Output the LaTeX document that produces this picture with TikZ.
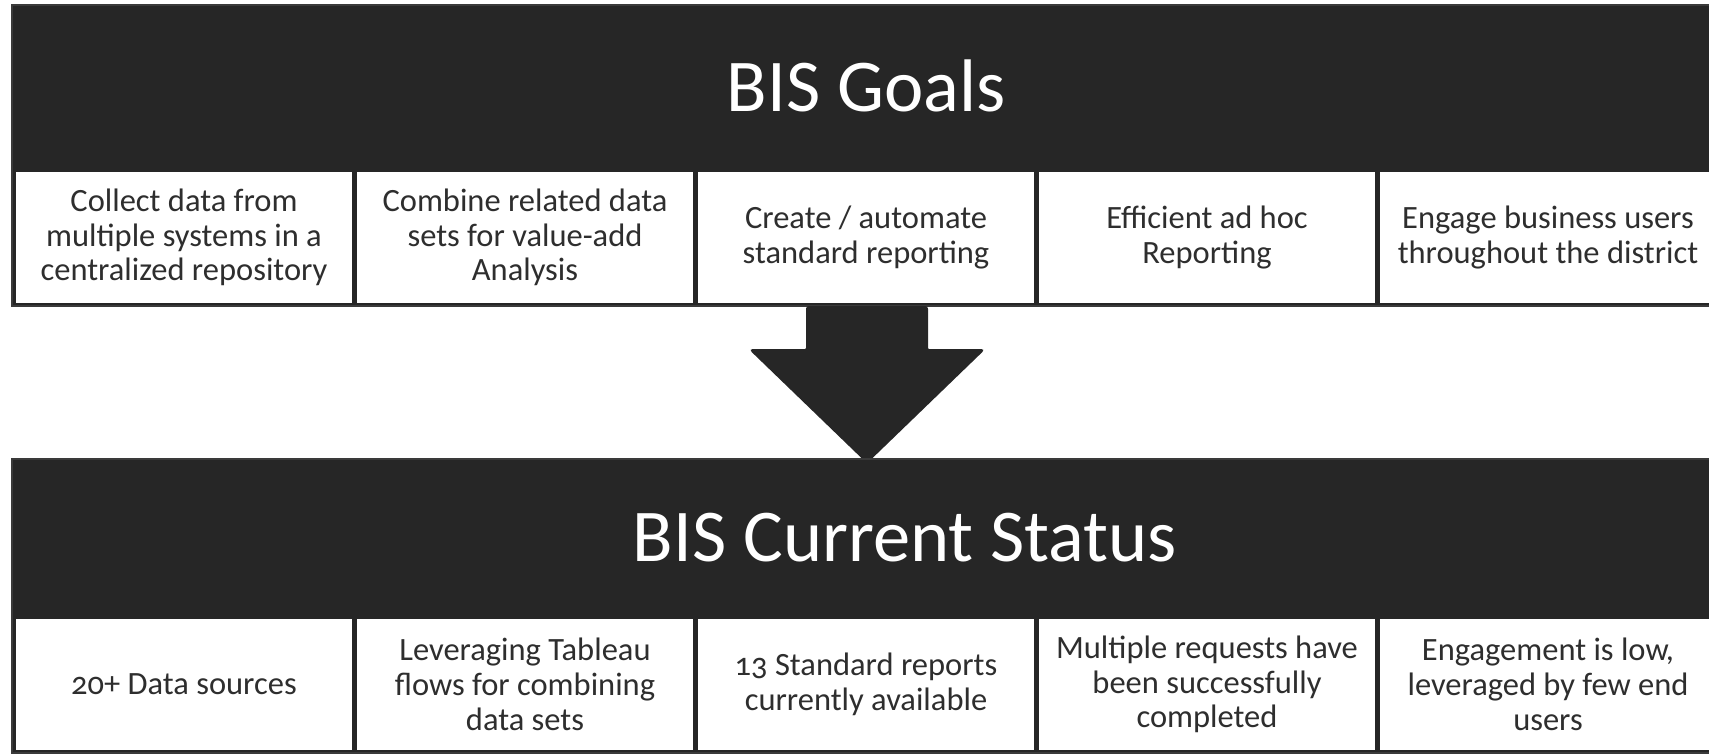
\documentclass[tikz,border=0pt]{standalone}
\usepackage{fontspec}
\setmainfont{Carlito}[Numbers=OldStyle]
\definecolor{band}{HTML}{262626}
\definecolor{edge}{HTML}{3A3A3A}
\definecolor{txt}{HTML}{2E2E2E}
\tikzset{
  bandbox/.style={fill=band,draw=edge,line width=2.5pt},
  cellbox/.style={fill=white,draw=none,minimum width=336pt,minimum height=131pt,inner sep=0pt,
    text=txt,align=center,font=\fontsize{32.5}{34.8}\selectfont},
  titletext/.style={text=white,font=\fontsize{74.5}{80}\selectfont,inner sep=0pt},
  bigarrow/.style={fill=band,draw=band,line width=2pt,rounded corners=2pt}
}
\begin{document}
\begin{tikzpicture}[x=1pt,y=-1pt]
\useasboundingbox (0,0) rectangle (1709,755);
\clip (0,0) rectangle (1709,755);
% top section
\path[bandbox] (12,5) rectangle (1726,306);
\node[titletext] (goals) at (866,86) {BIS Goals};
\node[cellbox] (g1) at (184,237.5) {Collect data from\\multiple systems in a\\centralized repository};
\node[cellbox] (g2) at (525,237.5) {Combine related data\\sets for value-add\\Analysis};
\node[cellbox] (g3) at (866,237.5) {Create / automate\\standard reporting};
\node[cellbox] (g4) at (1207,237.5) {Efficient ad hoc\\Reporting};
\node[cellbox] (g5) at (1548,237.5) {Engage business users\\throughout the district};
% arrow
\path[bigarrow] (807,307) -- (927,307) -- (927,350) -- (983,350) -- (867,462) -- (751,350) -- (807,350) -- cycle;
% bottom section
\path[bandbox] (12,459) rectangle (1726,753);
\node[titletext] (status) at (905,538) {BIS Current Status};
\node[cellbox] (s1) at (184,684.5) {20+ Data sources};
\node[cellbox] (s2) at (525,684.5) {Leveraging Tableau\\flows for combining\\data sets};
\node[cellbox] (s3) at (866,684.5) {13 Standard reports\\currently available};
\node[cellbox] (s4) at (1207,684.5) {Multiple requests have\\been successfully\\completed};
\node[cellbox] (s5) at (1548,684.5) {Engagement is low,\\leveraged by few end\\users};
\end{tikzpicture}
\end{document}
